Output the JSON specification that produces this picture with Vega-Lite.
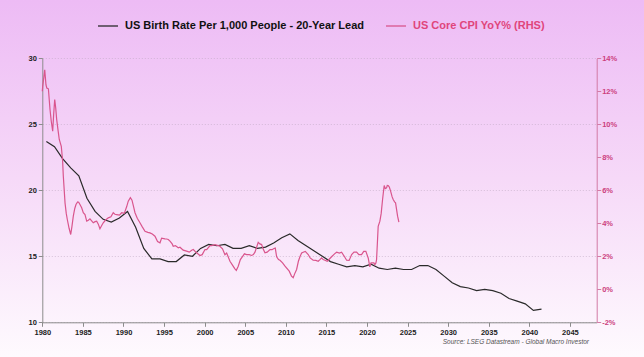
{
  "$schema": "https://vega.github.io/schema/vega-lite/v6.json",
  "width": 644,
  "height": 357,
  "autosize": {"type": "none"},
  "padding": 0,
  "background": "#f6d9f8",
  "config": {
    "view": {"stroke": null, "fill": {"gradient": "linear", "x1": 0, "y1": 0, "x2": 0, "y2": 1, "stops": [{"offset": 0, "color": "#edbbf5"}, {"offset": 0.5, "color": "#f6d9f8"}, {"offset": 1, "color": "#fefafe"}]}},
    "font": "Liberation Sans",
    "axis": {"labelFont": "Liberation Sans", "labelFontWeight": "bold", "labelFontSize": 7.5, "tickSize": 4, "labelPadding": 2, "labelFlush": false}
  },
  "datasets": {
    "birth": [
      {"year": 1980.5, "value": 23.7}, {"year": 1981.5, "value": 23.3}, {"year": 1982.5, "value": 22.4}, {"year": 1983.5, "value": 21.7},
      {"year": 1984.5, "value": 21.1}, {"year": 1985.5, "value": 19.4}, {"year": 1986.5, "value": 18.4}, {"year": 1987.5, "value": 17.8},
      {"year": 1988.5, "value": 17.6}, {"year": 1989.5, "value": 17.9}, {"year": 1990.5, "value": 18.4}, {"year": 1991.5, "value": 17.2},
      {"year": 1992.5, "value": 15.6}, {"year": 1993.5, "value": 14.8}, {"year": 1994.5, "value": 14.8}, {"year": 1995.5, "value": 14.6},
      {"year": 1996.5, "value": 14.6}, {"year": 1997.5, "value": 15.1}, {"year": 1998.5, "value": 15.0}, {"year": 1999.5, "value": 15.6},
      {"year": 2000.5, "value": 15.9}, {"year": 2001.5, "value": 15.8}, {"year": 2002.5, "value": 15.9}, {"year": 2003.5, "value": 15.6},
      {"year": 2004.5, "value": 15.6}, {"year": 2005.5, "value": 15.8}, {"year": 2006.5, "value": 15.6}, {"year": 2007.5, "value": 15.7},
      {"year": 2008.5, "value": 16.0}, {"year": 2009.5, "value": 16.4}, {"year": 2010.5, "value": 16.7}, {"year": 2011.5, "value": 16.2},
      {"year": 2012.5, "value": 15.8}, {"year": 2013.5, "value": 15.4}, {"year": 2014.5, "value": 15.0}, {"year": 2015.5, "value": 14.6},
      {"year": 2016.5, "value": 14.4}, {"year": 2017.5, "value": 14.2}, {"year": 2018.5, "value": 14.3}, {"year": 2019.5, "value": 14.2},
      {"year": 2020.5, "value": 14.4}, {"year": 2021.5, "value": 14.1}, {"year": 2022.5, "value": 14.0}, {"year": 2023.5, "value": 14.1},
      {"year": 2024.5, "value": 14.0}, {"year": 2025.5, "value": 14.0}, {"year": 2026.5, "value": 14.3}, {"year": 2027.5, "value": 14.3},
      {"year": 2028.5, "value": 14.0}, {"year": 2029.5, "value": 13.5}, {"year": 2030.5, "value": 13.0}, {"year": 2031.5, "value": 12.7},
      {"year": 2032.5, "value": 12.6}, {"year": 2033.5, "value": 12.4}, {"year": 2034.5, "value": 12.5}, {"year": 2035.5, "value": 12.4},
      {"year": 2036.5, "value": 12.2}, {"year": 2037.5, "value": 11.8}, {"year": 2038.5, "value": 11.6}, {"year": 2039.5, "value": 11.4},
      {"year": 2040.5, "value": 10.9}, {"year": 2041.5, "value": 11.0}
    ],
    "cpi": [
      {"year": 1980.0, "value": 12.0}, {"year": 1980.05, "value": 12.3}, {"year": 1980.3, "value": 13.3}, {"year": 1980.45, "value": 12.4},
      {"year": 1980.55, "value": 12.2}, {"year": 1980.75, "value": 12.15}, {"year": 1980.95, "value": 10.9}, {"year": 1981.1, "value": 10.2},
      {"year": 1981.28, "value": 9.58}, {"year": 1981.4, "value": 10.6}, {"year": 1981.53, "value": 11.5}, {"year": 1981.65, "value": 11.0},
      {"year": 1981.77, "value": 10.3}, {"year": 1981.95, "value": 9.6}, {"year": 1982.09, "value": 9.08}, {"year": 1982.34, "value": 8.67},
      {"year": 1982.5, "value": 7.8}, {"year": 1982.59, "value": 6.85}, {"year": 1982.8, "value": 5.24}, {"year": 1982.95, "value": 4.6},
      {"year": 1983.08, "value": 4.23}, {"year": 1983.3, "value": 3.7}, {"year": 1983.5, "value": 3.32}, {"year": 1983.65, "value": 3.8},
      {"year": 1983.82, "value": 4.43}, {"year": 1984.0, "value": 4.9}, {"year": 1984.15, "value": 5.14}, {"year": 1984.35, "value": 5.3},
      {"year": 1984.48, "value": 5.28}, {"year": 1984.64, "value": 5.14}, {"year": 1984.85, "value": 4.94}, {"year": 1985.05, "value": 4.64},
      {"year": 1985.26, "value": 4.53}, {"year": 1985.47, "value": 4.13}, {"year": 1985.67, "value": 4.19}, {"year": 1985.87, "value": 4.27},
      {"year": 1986.08, "value": 4.15}, {"year": 1986.28, "value": 4.03}, {"year": 1986.5, "value": 4.1}, {"year": 1986.7, "value": 4.13},
      {"year": 1986.9, "value": 3.95}, {"year": 1987.1, "value": 3.67}, {"year": 1987.3, "value": 3.85}, {"year": 1987.51, "value": 4.03},
      {"year": 1987.8, "value": 4.2}, {"year": 1988.13, "value": 4.33}, {"year": 1988.45, "value": 4.4}, {"year": 1988.74, "value": 4.64},
      {"year": 1988.95, "value": 4.55}, {"year": 1989.16, "value": 4.53}, {"year": 1989.5, "value": 4.5}, {"year": 1989.78, "value": 4.64},
      {"year": 1990.1, "value": 4.6}, {"year": 1990.39, "value": 5.0}, {"year": 1990.59, "value": 5.34}, {"year": 1990.85, "value": 5.55},
      {"year": 1991.05, "value": 5.4}, {"year": 1991.25, "value": 5.0}, {"year": 1991.42, "value": 4.64}, {"year": 1991.7, "value": 4.3},
      {"year": 1992.03, "value": 4.03}, {"year": 1992.3, "value": 3.8}, {"year": 1992.65, "value": 3.52}, {"year": 1993.0, "value": 3.45},
      {"year": 1993.26, "value": 3.42}, {"year": 1993.55, "value": 3.35}, {"year": 1993.88, "value": 3.22}, {"year": 1994.2, "value": 2.9},
      {"year": 1994.5, "value": 2.82}, {"year": 1994.7, "value": 3.1}, {"year": 1995.11, "value": 3.06}, {"year": 1995.3, "value": 3.05},
      {"year": 1995.52, "value": 3.02}, {"year": 1995.73, "value": 2.92}, {"year": 1996.0, "value": 2.75}, {"year": 1996.13, "value": 2.61},
      {"year": 1996.4, "value": 2.65}, {"year": 1996.75, "value": 2.52}, {"year": 1996.96, "value": 2.55}, {"year": 1997.36, "value": 2.37},
      {"year": 1997.78, "value": 2.31}, {"year": 1998.1, "value": 2.25}, {"year": 1998.4, "value": 2.37}, {"year": 1998.6, "value": 2.41},
      {"year": 1999.01, "value": 2.21}, {"year": 1999.42, "value": 2.05}, {"year": 1999.7, "value": 2.1}, {"year": 2000.04, "value": 2.41},
      {"year": 2000.25, "value": 2.4}, {"year": 2000.66, "value": 2.65}, {"year": 2000.86, "value": 2.65}, {"year": 2001.28, "value": 2.71},
      {"year": 2001.67, "value": 2.65}, {"year": 2001.88, "value": 2.61}, {"year": 2002.2, "value": 2.45}, {"year": 2002.5, "value": 2.1},
      {"year": 2002.71, "value": 2.2}, {"year": 2003.12, "value": 1.7}, {"year": 2003.45, "value": 1.45}, {"year": 2003.73, "value": 1.24},
      {"year": 2003.9, "value": 1.15}, {"year": 2004.14, "value": 1.4}, {"year": 2004.4, "value": 1.8}, {"year": 2004.68, "value": 2.0},
      {"year": 2004.9, "value": 2.15}, {"year": 2005.17, "value": 2.1}, {"year": 2005.5, "value": 2.1}, {"year": 2005.79, "value": 2.05},
      {"year": 2006.0, "value": 2.1}, {"year": 2006.2, "value": 2.25}, {"year": 2006.6, "value": 2.85}, {"year": 2006.8, "value": 2.75},
      {"year": 2007.02, "value": 2.71}, {"year": 2007.2, "value": 2.45}, {"year": 2007.43, "value": 2.21}, {"year": 2007.7, "value": 2.25},
      {"year": 2008.05, "value": 2.41}, {"year": 2008.3, "value": 2.4}, {"year": 2008.54, "value": 2.47}, {"year": 2008.7, "value": 2.5},
      {"year": 2008.87, "value": 1.97}, {"year": 2009.1, "value": 1.8}, {"year": 2009.28, "value": 1.76}, {"year": 2009.6, "value": 1.6},
      {"year": 2009.9, "value": 1.4}, {"year": 2010.42, "value": 1.1}, {"year": 2010.7, "value": 0.8}, {"year": 2010.91, "value": 0.7},
      {"year": 2011.1, "value": 0.95}, {"year": 2011.33, "value": 1.2}, {"year": 2011.55, "value": 1.7}, {"year": 2011.74, "value": 1.97},
      {"year": 2011.95, "value": 2.2}, {"year": 2012.14, "value": 2.25}, {"year": 2012.4, "value": 2.3}, {"year": 2012.76, "value": 2.11},
      {"year": 2013.0, "value": 1.9}, {"year": 2013.37, "value": 1.76}, {"year": 2013.7, "value": 1.75}, {"year": 2013.99, "value": 1.7},
      {"year": 2014.2, "value": 1.8}, {"year": 2014.41, "value": 1.91}, {"year": 2014.6, "value": 1.8}, {"year": 2014.82, "value": 1.76},
      {"year": 2015.1, "value": 1.7}, {"year": 2015.4, "value": 1.85}, {"year": 2015.64, "value": 1.97}, {"year": 2016.0, "value": 2.15},
      {"year": 2016.26, "value": 2.25}, {"year": 2016.6, "value": 2.2}, {"year": 2016.87, "value": 2.25}, {"year": 2017.2, "value": 2.0},
      {"year": 2017.49, "value": 1.76}, {"year": 2017.8, "value": 1.75}, {"year": 2018.11, "value": 2.11}, {"year": 2018.4, "value": 2.25},
      {"year": 2018.72, "value": 2.25}, {"year": 2019.0, "value": 2.1}, {"year": 2019.33, "value": 2.1}, {"year": 2019.6, "value": 2.3},
      {"year": 2019.86, "value": 2.3}, {"year": 2020.15, "value": 1.9}, {"year": 2020.35, "value": 1.36}, {"year": 2020.5, "value": 1.6},
      {"year": 2020.69, "value": 1.6}, {"year": 2020.85, "value": 1.6}, {"year": 2020.97, "value": 1.5}, {"year": 2021.1, "value": 1.6},
      {"year": 2021.18, "value": 1.8}, {"year": 2021.3, "value": 3.0}, {"year": 2021.38, "value": 3.82}, {"year": 2021.59, "value": 4.13},
      {"year": 2021.75, "value": 4.6}, {"year": 2021.92, "value": 5.44}, {"year": 2022.05, "value": 6.0}, {"year": 2022.12, "value": 6.29},
      {"year": 2022.25, "value": 6.1}, {"year": 2022.41, "value": 6.15}, {"year": 2022.5, "value": 6.3}, {"year": 2022.61, "value": 6.29},
      {"year": 2022.75, "value": 6.2}, {"year": 2022.91, "value": 5.95}, {"year": 2023.1, "value": 5.6}, {"year": 2023.23, "value": 5.44},
      {"year": 2023.4, "value": 5.3}, {"year": 2023.52, "value": 5.24}, {"year": 2023.77, "value": 4.43}, {"year": 2023.93, "value": 4.07}
    ]
  },
  "encoding": {
    "x": {
      "field": "year", "type": "quantitative",
      "scale": {"domain": [1980, 2048.3], "range": [42.3, 596.7], "nice": false, "zero": false},
      "axis": {
        "offset": -34.7,
        "values": [1980, 1985, 1990, 1995, 2000, 2005, 2010, 2015, 2020, 2025, 2030, 2035, 2040, 2045],
        "format": "d", "grid": false, "domainColor": "#8c8c8c", "tickColor": "#8c8c8c", "labelColor": "#222222",
        "title": "Source: LSEG Datastream - Global Macro Investor",
        "titleFont": "Liberation Sans", "titleFontStyle": "italic", "titleFontWeight": "normal", "titleFontSize": 6.5,
        "titleColor": "#555555", "titleAlign": "right", "titleAnchor": "end", "titleX": 588.5, "titleY": 21, "titleBaseline": "alphabetic"
      }
    }
  },
  "layer": [
    {
      "data": {"name": "birth"},
      "mark": {"type": "line", "strokeWidth": 1.2},
      "encoding": {
        "y": {
          "field": "value", "type": "quantitative",
          "scale": {"domain": [10, 30], "range": [322.3, 58.3], "nice": false, "zero": false},
          "axis": {"orient": "left", "offset": -42.3, "values": [10, 15, 20, 25, 30], "title": null, "grid": true,
            "gridColor": "#bfa9c2", "gridDash": [1, 2], "gridWidth": 0.6,
            "domainColor": "#8c8c8c", "tickColor": "#8c8c8c", "labelColor": "#222222"}
        },
        "color": {
          "datum": "US Birth Rate Per 1,000 People - 20-Year Lead",
          "scale": {"domain": ["US Birth Rate Per 1,000 People - 20-Year Lead", "US Core CPI YoY% (RHS)"], "range": ["#2a2a2a", "#d9558d"]},
          "legend": {
            "orient": "none", "legendX": 97, "legendY": 15, "direction": "horizontal", "title": null,
            "symbolType": "stroke", "symbolSize": 400, "symbolStrokeWidth": 1.3, "labelOffset": 6, "columnPadding": 18,
            "labelFont": "Liberation Sans", "labelFontWeight": "bold", "labelFontSize": 11, "labelLimit": 400,
            "encode": {"labels": {"update": {"fill": {"signal": "datum.label === 'US Core CPI YoY% (RHS)' ? '#e0457c' : '#111111'"}}}}
          }
        }
      }
    },
    {
      "data": {"name": "cpi"},
      "mark": {"type": "line", "strokeWidth": 1.2},
      "encoding": {
        "y": {
          "field": "value", "type": "quantitative",
          "scale": {"domain": [-2, 14], "range": [322.3, 58.3], "nice": false, "zero": false},
          "axis": {"orient": "right", "offset": -47.3, "values": [-2, 0, 2, 4, 6, 8, 10, 12, 14], "labelExpr": "datum.value + '%'", "title": null, "grid": false,
            "domainColor": "#d37aa6", "tickColor": "#d37aa6", "labelColor": "#cc3f7e", "labelPadding": 1}
        },
        "color": {"datum": "US Core CPI YoY% (RHS)"}
      }
    }
  ],
  "resolve": {"scale": {"y": "independent"}, "axis": {"y": "independent"}}
}
